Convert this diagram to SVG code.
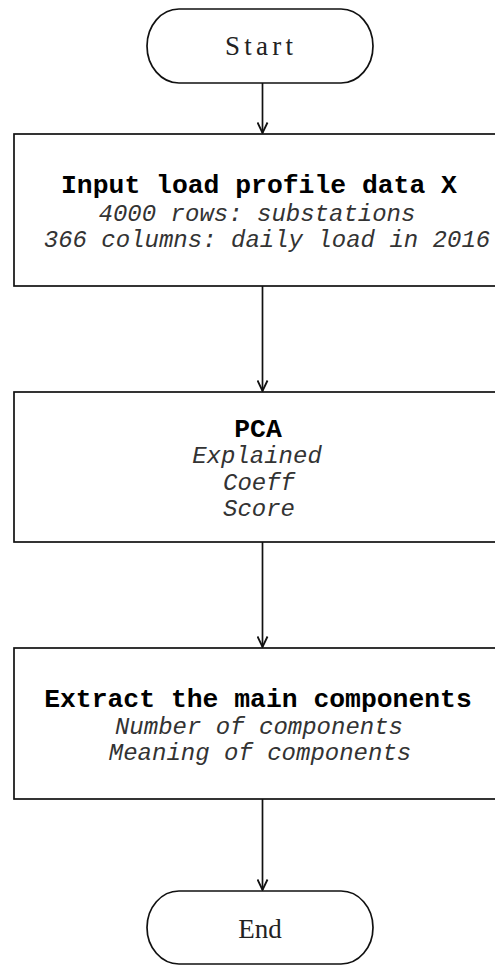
<svg xmlns="http://www.w3.org/2000/svg" width="495" height="965" viewBox="0 0 495 965">
<style>
.shape{fill:#fff;stroke:#111;stroke-width:1.7}
.term{font-family:"Liberation Serif","DejaVu Serif",serif;font-size:27px;fill:#222;text-anchor:middle}
.title{font-family:"Liberation Mono","DejaVu Sans Mono",monospace;font-size:26.4px;font-weight:bold;fill:#000;text-anchor:middle}
.sub{font-family:"Liberation Mono","DejaVu Sans Mono",monospace;font-size:24px;font-style:italic;fill:#333;text-anchor:middle}
.conn{stroke:#111;stroke-width:1.7;fill:none}
</style>
<defs>
<marker id="arr" viewBox="0 0 12 12" refX="11.5" refY="6" markerWidth="12" markerHeight="12" markerUnits="userSpaceOnUse" orient="auto">
<path d="M1,1 L11.5,6 L1,11" fill="none" stroke="#111" stroke-width="1.8"/>
</marker>
</defs>
<rect width="495" height="965" fill="#fff"/>
<g id="connectors">
<line class="conn" x1="262.5" y1="83" x2="262.5" y2="133" marker-end="url(#arr)"/>
<line class="conn" x1="262.5" y1="286" x2="262.5" y2="391" marker-end="url(#arr)"/>
<line class="conn" x1="262.5" y1="542" x2="262.5" y2="647" marker-end="url(#arr)"/>
<line class="conn" x1="262.5" y1="799" x2="262.5" y2="890" marker-end="url(#arr)"/>
</g>
<g id="start">
<rect class="shape" x="147" y="9" width="226" height="74" rx="32" ry="37"/>
<text class="term" x="259" y="55" textLength="68" lengthAdjust="spacing">Start</text>
</g>
<g id="input">
<rect class="shape" x="14" y="134" width="498" height="152"/>
<text class="title" x="259" y="193">Input load profile data X</text>
<text class="sub" x="257" y="221">4000 rows: substations</text>
<text class="sub" x="267" y="247">366 columns: daily load in 2016</text>
</g>
<g id="pca">
<rect class="shape" x="14" y="392" width="498" height="150"/>
<text class="title" x="258" y="437">PCA</text>
<text class="sub" x="257" y="463">Explained</text>
<text class="sub" x="259" y="490">Coeff</text>
<text class="sub" x="259" y="516">Score</text>
</g>
<g id="extract">
<rect class="shape" x="14" y="648" width="498" height="151"/>
<text class="title" x="258" y="707">Extract the main components</text>
<text class="sub" x="259" y="734">Number of components</text>
<text class="sub" x="260" y="760">Meaning of components</text>
</g>
<g id="end">
<rect class="shape" x="147" y="891" width="226" height="73" rx="32" ry="36.5"/>
<text class="term" x="260" y="938">End</text>
</g>
</svg>
